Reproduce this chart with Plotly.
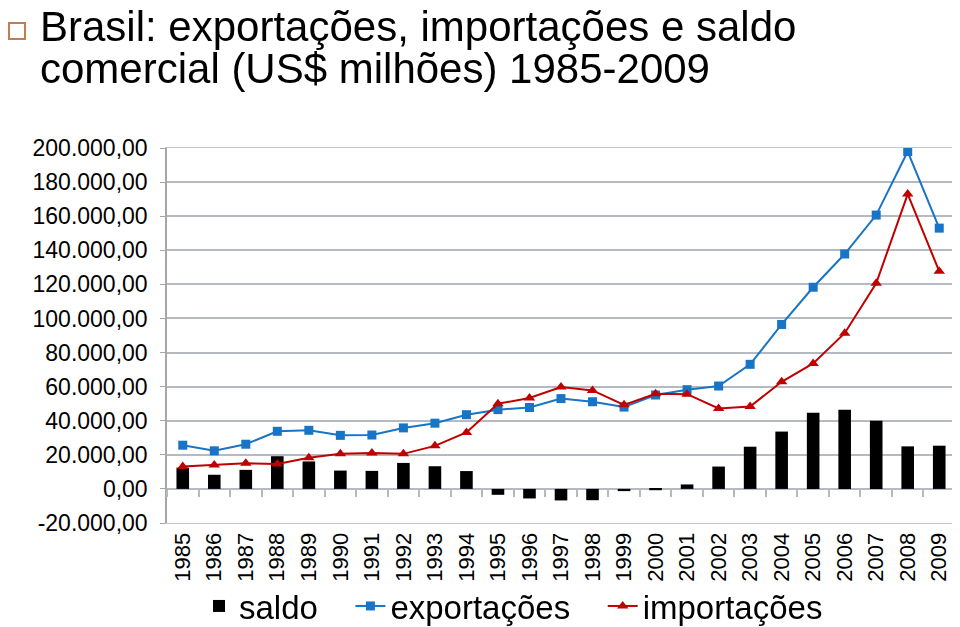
import plotly.graph_objects as go

anos = [str(a) for a in range(1985, 2010)]
exportacoes = [25639, 22349, 26224, 33789, 34383, 31414, 31620, 35793, 38555, 43545,
               46506, 47747, 52983, 51140, 48011, 55086, 58223, 60362, 73084, 96475,
               118308, 137807, 160649, 197942, 152995]
importacoes = [13153, 14044, 15051, 14605, 18263, 20661, 21040, 20554, 25256, 33079,
               49972, 53346, 59747, 57763, 49302, 55851, 55602, 47243, 48326, 62836,
               73600, 91351, 120617, 172985, 127647]
saldo = [12486, 8305, 11173, 19184, 16119, 10752, 10580, 15239, 13299, 10466,
         -3466, -5599, -6764, -6623, -1289, -765, 2621, 13119, 24758, 33639,
         44708, 46456, 40032, 24957, 25348]
y_ticks = [-20000, 0, 20000, 40000, 60000, 80000, 100000, 120000, 140000, 160000, 180000, 200000]
y_tick_labels = ["-20.000,00", "0,00", "20.000,00", "40.000,00", "60.000,00", "80.000,00",
                 "100.000,00", "120.000,00", "140.000,00", "160.000,00", "180.000,00", "200.000,00"]
titulo_l1 = "Brasil: exportações, importações e saldo"
titulo_l2 = "comercial (US$ milhões) 1985-2009"

Y_MIN, Y_MAX = -20000, 200000
FONT = "Liberation Sans, Arial, sans-serif"
PAD = "\u00a0\u00a0\u00a0"

# page body has an 8px margin: work in screen pixels and shift by it
OFF = 8
W, H = 960 - OFF, 627 - OFF
L, R, T, B = 167 - OFF, 955 - OFF, 148 - OFF, 523 - OFF
def px_x(p):
    return (p - OFF - L) / (R - L)
def px_y(p):
    return (B - (p - OFF)) / (B - T)

fig = go.Figure()
fig.add_trace(go.Bar(x=anos, y=saldo, name="saldo" + PAD,
                     marker=dict(color="black", line=dict(width=0)), width=0.4))
fig.add_trace(go.Scatter(x=anos, y=exportacoes, name="exportações" + PAD, mode="lines+markers",
                         line=dict(color="#1874c6", width=2),
                         marker=dict(symbol="square", size=9, color="#1874c6")))
fig.add_trace(go.Scatter(x=anos, y=importacoes, name="importações", mode="lines+markers",
                         line=dict(color="#c00000", width=2),
                         marker=dict(symbol="triangle-up", size=10, color="#c00000")))
# invisible trace to carry the tick-mark axis at zero
fig.add_trace(go.Scatter(x=anos, y=saldo, xaxis="x2", mode="markers", opacity=0,
                         showlegend=False, hoverinfo="skip"))

grid = "#b5b9c1"
border = "#c6c6c6"
title_font = dict(size=42, family=FONT, color="black")

fig.update_layout(
    width=W, height=H,
    margin=dict(l=L, r=W - R, t=T, b=H - B, autoexpand=False),
    paper_bgcolor="white", plot_bgcolor="white",
    font=dict(family=FONT, color="black"),
    xaxis=dict(type="category", categoryarray=anos, range=[-0.5, 24.5],
               tickangle=-90, tickfont=dict(size=22, family=FONT), automargin=False,
               showgrid=False, showline=True, linecolor=border, linewidth=1, mirror=True,
               ticks="", zeroline=False),
    xaxis2=dict(type="category", categoryarray=anos, range=[-0.5, 24.5], overlaying="x",
                anchor="free", position=(0 - Y_MIN) / (Y_MAX - Y_MIN),
                showticklabels=False, ticks="outside", tickson="boundaries",
                ticklen=7, tickcolor=grid, tickwidth=1.5, showgrid=False, showline=False,
                zeroline=False, automargin=False),
    yaxis=dict(range=[Y_MIN, Y_MAX], tickvals=y_ticks, ticktext=y_tick_labels,
               tickfont=dict(size=23, family=FONT), automargin=False,
               showgrid=True, gridcolor=grid, gridwidth=1.5,
               zeroline=True, zerolinecolor=grid, zerolinewidth=1.5,
               showline=True, linecolor="#a6a6a6", linewidth=1.5, mirror=True,
               ticks="outside", ticklen=5, tickcolor="#a6a6a6", ticklabelstandoff=8),
    legend=dict(orientation="h", x=px_x(199), xanchor="left",
                y=px_y(606), yanchor="middle",
                font=dict(size=33, family=FONT), bgcolor="rgba(0,0,0,0)"),
    showlegend=True,
    annotations=[
        dict(text=titulo_l1, xref="paper", yref="paper", x=px_x(38), y=px_y(1),
             xanchor="left", yanchor="top", align="left", showarrow=False, font=title_font),
        dict(text=titulo_l2, xref="paper", yref="paper", x=px_x(38), y=px_y(43),
             xanchor="left", yanchor="top", align="left", showarrow=False, font=title_font),
    ],
    shapes=[dict(type="rect", xref="paper", yref="paper",
                 x0=px_x(9), x1=px_x(25), y0=px_y(23), y1=px_y(39),
                 line=dict(color="#c27c4e", width=2), fillcolor="rgba(0,0,0,0)")],
)

fig.write_html("out.html")
